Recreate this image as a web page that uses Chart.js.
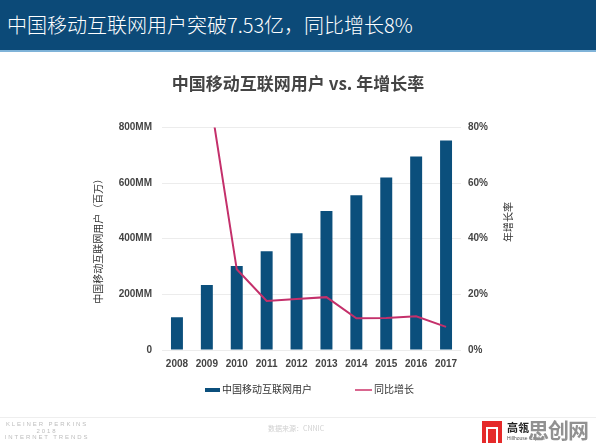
<!DOCTYPE html>
<html><head><meta charset="utf-8">
<script src="https://cdn.jsdelivr.net/npm/chart.js@4.4.1/dist/chart.umd.min.js"></script>
<style>
html,body{margin:0;padding:0;background:#fff;width:596px;height:447px;overflow:hidden;font-family:"Noto Sans CJK SC","Liberation Sans",sans-serif;}
#wrap{position:relative;width:596px;height:447px;}
#c{position:absolute;left:0;top:0;}
#hdr{position:absolute;left:0;top:0;width:596px;height:50px;background:#0c4a78;border-bottom:2px solid #7fb3d8;color:#fff;font-size:20px;font-weight:300;line-height:50px;padding-left:7px;box-sizing:content-box;white-space:nowrap;}
#legend{position:absolute;top:381px;left:0;width:596px;height:16px;font-size:10px;color:#333;}
.li{position:absolute;top:0;line-height:16px;white-space:nowrap;}
.sw{display:inline-block;vertical-align:middle;margin-right:2px;}
#fline{position:absolute;left:0;top:417px;width:596px;height:1px;background:#eeeeee;}
#kp{position:absolute;left:2px;top:421px;width:90px;text-align:center;font-family:"Liberation Sans",sans-serif;font-size:6px;line-height:6.5px;color:#bdbdbd;letter-spacing:1.9px;}
#src{position:absolute;left:268px;top:423px;font-size:7px;color:#d0d0d0;}
#logo{position:absolute;left:482px;top:421px;width:20px;height:22px;background:#e52a2a;}
#logo2{position:absolute;left:486px;top:427px;width:12px;height:16px;border-left:2px solid #fff;border-right:2px solid #fff;border-top:2px solid #fff;box-sizing:border-box;}
#gl{position:absolute;left:507px;top:419px;font-size:11px;font-weight:bold;color:#222;}
#hh{position:absolute;left:507px;top:435px;font-family:"Liberation Sans",sans-serif;font-size:5px;color:#555;}
#wm{position:absolute;left:528px;top:414px;font-size:21px;font-weight:bold;color:#8c8c8c;opacity:0.95;letter-spacing:-1px;}
</style></head>
<body><div id="wrap">
<canvas id="c" width="596" height="447"></canvas>
<div id="hdr">中国移动互联网用户突破7.53亿，同比增长8%</div>
<div id="legend"></div>
<div id="fline"></div>
<div id="kp">KLEINER PERKINS<br>2018<br>INTERNET TRENDS</div>
<div id="src">数据来源：CNNIC</div>
<div id="logo"></div><div id="logo2"></div>
<div id="gl">高瓴</div>
<div id="hh">Hillhouse Capital</div>
<div id="wm">思创网</div>
</div>
<script>
const years = ['2008','2009','2010','2011','2012','2013','2014','2015','2016','2017'];
const users = [118, 234, 302, 355, 420, 500, 556, 620, 695, 753];
const growth = [null, 98, 29, 17.6, 18.3, 19, 11.4, 11.5, 12.1, 8.3];
const userTicks = [0, 200, 400, 600, 800];
const growthTicks = [0, 20, 40, 60, 80];
const barLabel = '中国移动互联网用户';
const lineLabel = '同比增长';
const chartTitle = '中国移动互联网用户 vs. 年增长率';
const leftTitle = '中国移动互联网用户（百万）';
const rightTitle = '年增长率';

const BAR = '#0b4f7c', LINE = '#c4306b';
const tickFont = {family:'"Liberation Sans", sans-serif', size:10, weight:'bold'};

const axisTitles = {
  id:'axisTitles',
  afterDraw(chart){
    const ctx = chart.ctx, a = chart.chartArea;
    ctx.save();
    ctx.fillStyle = '#333';
    ctx.font = '10px "Noto Sans CJK SC", sans-serif';
    ctx.textAlign = 'center'; ctx.textBaseline = 'middle';
    ctx.translate(98, (a.top + a.bottom)/2);
    ctx.rotate(-Math.PI/2);
    ctx.fillText(leftTitle, 0, 0);
    ctx.restore();
    ctx.save();
    ctx.fillStyle = '#333';
    ctx.font = '10px "Noto Sans CJK SC", sans-serif';
    ctx.textAlign = 'center'; ctx.textBaseline = 'middle';
    ctx.translate(a.right + 47, 222);
    ctx.rotate(-Math.PI/2);
    ctx.fillText(rightTitle, 0, 0);
    ctx.restore();
  }
};

new Chart(document.getElementById('c'), {
  data: {
    labels: years,
    datasets: [
      {type:'line', label:lineLabel, data:growth, yAxisID:'y1', borderColor:LINE, backgroundColor:LINE, borderWidth:2, pointRadius:0, tension:0, spanGaps:false, order:0},
      {type:'bar', label:barLabel, data:users, yAxisID:'y', backgroundColor:BAR, barPercentage:0.8, categoryPercentage:0.5, order:1}
    ]
  },
  options: {
    responsive:false, animation:false, devicePixelRatio:1,
    layout:{padding:{top:55, left:0, right:0, bottom:72}},
    plugins:{
      legend:{display:false},
      tooltip:{enabled:false},
      title:{display:true, text:chartTitle, color:'#444', font:{family:'"Noto Sans CJK SC", sans-serif', size:17, weight:'bold'}, padding:{top:18, bottom:34}}
    },
    scales:{
      x:{
        offset:true,
        grid:{display:false, drawTicks:false},
        border:{display:false},
        ticks:{color:'#444', font:tickFont, padding:8, maxRotation:0, autoSkip:false},
        afterFit(s){ s.height = 25; }
      },
      y:{
        position:'left', min:0, max:800,
        afterBuildTicks(s){ s.ticks = userTicks.map(v=>({value:v})); },
        grid:{color:'#ececec', drawTicks:false, lineWidth:1},
        border:{display:false},
        ticks:{color:'#444', font:tickFont, padding:10, callback:v=> v===0 ? '0' : v+'MM'},
        afterFit(s){ s.width = 162; }
      },
      y1:{
        position:'right', min:0, max:80,
        afterBuildTicks(s){ s.ticks = growthTicks.map(v=>({value:v})); },
        grid:{display:false, drawTicks:false},
        border:{display:false},
        ticks:{color:'#444', font:tickFont, padding:7, callback:v=> v+'%'},
        afterFit(s){ s.width = 135; }
      }
    }
  },
  plugins:[axisTitles]
});

// HTML legend
const lg = document.getElementById('legend');
lg.innerHTML =
  '<div class="li" style="left:205px"><span class="sw" style="width:15px;height:4px;background:'+BAR+'"></span>'+barLabel+'</div>' +
  '<div class="li" style="left:355px"><span class="sw" style="width:17px;height:2px;background:#d9668f"></span>'+lineLabel+'</div>';
</script>
</body></html>
